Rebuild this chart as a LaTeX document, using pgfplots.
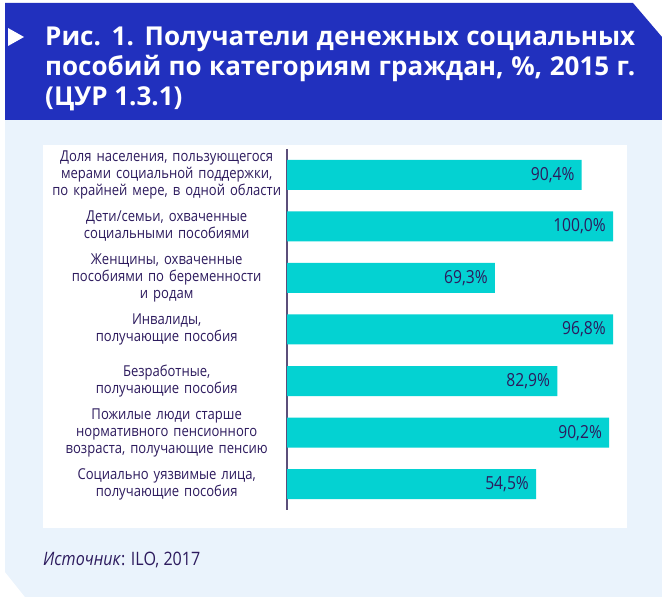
\documentclass[border=0pt]{standalone}
\usepackage{fontspec}
\setmainfont{Open Sans}
\newfontfamily\cond[FakeStretch=0.87]{Open Sans}
\usepackage{pgfplots}
\pgfplotsset{compat=1.18}
\definecolor{hdr}{HTML}{2130BE}
\definecolor{panel}{HTML}{EAF3FC}
\definecolor{barc}{HTML}{04D2D2}
\definecolor{txt}{HTML}{2D1B5E}
\definecolor{axl}{HTML}{5B4F7A}
\begin{document}
\begin{tikzpicture}[x=1bp,y=1bp]
\useasboundingbox (0,0) rectangle (662,597);
% backgrounds
\fill[panel] (5,477) -- (662,477) -- (662,0) -- (25,0) -- (5,25) -- cycle;
\fill[hdr] (5,594) -- (633,594) -- (662,560) -- (662,477) -- (5,477) -- cycle;
\fill[white] (8,569) -- (24,560) -- (8,551) -- cycle;
\fill[white] (43,69) rectangle (627,452);
% title
\begin{scope}[every node/.style={anchor=base west, inner sep=0pt, text=white,
    font=\fontsize{26bp}{30bp}\selectfont\bfseries}]
\node at (45,551) {\makebox[590bp][s]{Рис. 1. Получатели денежных социальных}};
\node at (45,521) {\makebox[590bp][s]{пособий по категориям граждан, \%, 2015 г.}};
\node at (45,491) {(ЦУР 1.3.1)};
\end{scope}
\begin{axis}[
  at={(287bp,87bp)}, anchor=south west,
  scale only axis, width=326bp, height=361bp,
  xbar, bar width=30bp, bar shift=0pt,
  xmin=0, xmax=100, ymin=-0.5, ymax=6.5, y dir=reverse,
  axis x line=none, axis y line=left,
  y axis line style={-, draw=axl, line width=1.3bp},
  ytick={0,...,6}, ytick style={draw=none},
  yticklabels={
    {Доля населения, пользующегося\\мерами социальной поддержки,\\по крайней мере, в одной области},
    {Дети/семьи, охваченные\\социальными пособиями},
    {Женщины, охваченные\\пособиями по беременности\\и родам},
    {Инвалиды,\\получающие пособия},
    {Безработные,\\получающие пособия},
    {Пожилые люди старше\\нормативного пенсионного\\возраста, получающие пенсию},
    {Социально уязвимые лица,\\получающие пособия}},
  yticklabel style={text width=236bp, align=center, inner sep=0pt, text=txt,
    font=\cond\fontsize{15bp}{17bp}\selectfont},
  point meta=explicit,
  nodes near coords={\pgfmathprintnumber[fixed,fixed zerofill,precision=1,use comma,assume math mode=true]{\pgfplotspointmeta}\%},
  clip=false,
]
\addplot[fill=barc, draw=none,
  every node near coord/.append style={anchor=east, inner sep=0pt, xshift=-7bp, text=txt,
    font=\cond\fontsize{18bp}{20bp}\selectfont}]
  table[x=len, y=idx, meta=val] {
idx len val
0 90.4 90.4
1 100 100
2 63.8 69.3
3 100 96.8
4 82.9 82.9
5 98.8 90.2
6 76.4 54.5
};
\end{axis}
% source
\node[anchor=base west, inner sep=0pt, text=txt, font=\cond\fontsize{18.5bp}{20bp}\selectfont]
  at (43,31) {\textit{Источник}: ILO, 2017};
\end{tikzpicture}
\end{document}
